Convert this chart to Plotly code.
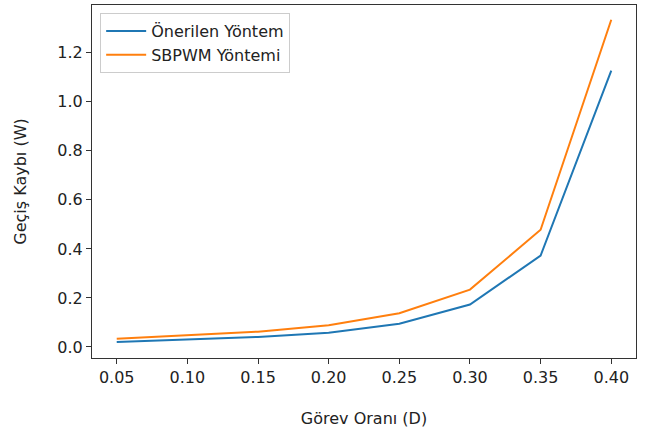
import plotly.graph_objects as go

duty = [0.05, 0.10, 0.15, 0.20, 0.25, 0.30, 0.35, 0.40]
proposed = [0.020, 0.031, 0.041, 0.058, 0.095, 0.173, 0.373, 1.127]
sbpwm = [0.034, 0.049, 0.0625, 0.0885, 0.1375, 0.234, 0.478, 1.335]
xticks = [0.05, 0.10, 0.15, 0.20, 0.25, 0.30, 0.35, 0.40]
yticks = [0.0, 0.2, 0.4, 0.6, 0.8, 1.0, 1.2]

font = "DejaVu Sans"
fs = 16
fig = go.Figure()
fig.add_trace(go.Scatter(x=duty, y=proposed, mode="lines", name="Önerilen Yöntem",
                         line=dict(color="#1f77b4", width=2)))
fig.add_trace(go.Scatter(x=duty, y=sbpwm, mode="lines", name="SBPWM Yöntemi",
                         line=dict(color="#ff7f0e", width=2)))

axis_common = dict(showline=True, linecolor="#333333", linewidth=1.2, mirror=True,
                   ticks="outside", ticklen=5, tickwidth=1.2, tickcolor="#333333",
                   showgrid=False, zeroline=False,
                   tickfont=dict(family=font, size=fs, color="#222222"))
fig.update_layout(
    width=647, height=432,
    margin=dict(l=92, r=11, t=5, b=74),
    paper_bgcolor="white", plot_bgcolor="white",
    font=dict(family=font, size=fs, color="#222222"),
    xaxis=dict(range=[0.0325, 0.4175], tickvals=xticks,
               ticktext=[f"{v:.2f}" for v in xticks],
               title=dict(text="Görev Oranı (D)", standoff=26, font=dict(size=fs)),
               **axis_common),
    yaxis=dict(range=[-0.045, 1.395], tickvals=yticks,
               ticktext=[f"{v:.1f}" for v in yticks],
               title=dict(text="Geçiş Kaybı (W)", standoff=26, font=dict(size=fs)),
               **axis_common),
    legend=dict(x=0.015, y=0.977, xanchor="left", yanchor="top",
                bgcolor="rgba(255,255,255,0.8)", bordercolor="#cccccc", borderwidth=1,
                font=dict(family=font, size=fs, color="#222222"),
                itemwidth=40, tracegroupgap=0),
    showlegend=True,
)
fig.write_html("out.html")
